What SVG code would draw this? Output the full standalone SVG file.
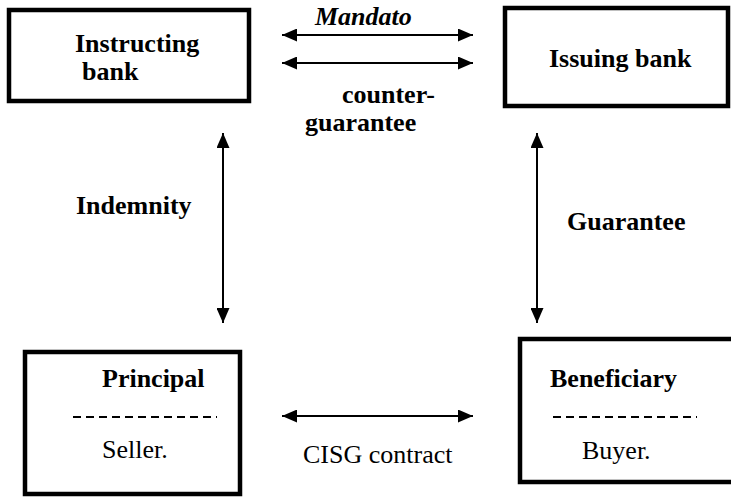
<svg xmlns="http://www.w3.org/2000/svg" width="731" height="497" viewBox="0 0 731 497">
<defs>
<marker id="ah" viewBox="0 0 15 13" refX="15" refY="6.5" markerWidth="15" markerHeight="13" markerUnits="userSpaceOnUse" orient="auto-start-reverse">
<path d="M0,0 L15,6.5 L0,13 Z" fill="#000"/>
</marker>
</defs>
<style>
.box{fill:#fff;stroke:#000;stroke-width:4.5}
text{font-family:'Liberation Serif','Tinos','Times New Roman','DejaVu Serif',serif;font-size:26px;fill:#000}
.b{font-weight:bold}
.c{stroke:#000;stroke-width:2;fill:none;marker-start:url(#ah);marker-end:url(#ah)}
.d{stroke:#000;stroke-width:2;stroke-dasharray:8,5}
</style>
<rect width="731" height="497" fill="#fff"/>
<g id="connectors">
<line class="c" x1="282" y1="35" x2="473" y2="35"/>
<line class="c" x1="282" y1="63" x2="473" y2="63"/>
<line class="c" x1="223" y1="133" x2="223" y2="323"/>
<line class="c" x1="537" y1="133" x2="537" y2="323"/>
<line class="c" x1="282" y1="416" x2="473" y2="416"/>
<text class="b" x="315" y="25" font-style="italic">Mandato</text>
<text class="b" x="342" y="103">counter-</text>
<text class="b" x="305" y="131">guarantee</text>
<text class="b" x="76" y="214">Indemnity</text>
<text class="b" x="567" y="230">Guarantee</text>
<text x="303" y="463">CISG contract</text>
</g>
<g id="instructing-bank">
<rect class="box" x="9" y="10" width="240" height="91"/>
<text class="b" x="75" y="52">Instructing</text>
<text class="b" x="82" y="80">bank</text>
</g>
<g id="issuing-bank">
<rect class="box" x="505" y="8" width="223" height="98"/>
<text class="b" x="549" y="67">Issuing bank</text>
</g>
<g id="principal">
<rect class="box" x="25" y="352" width="215" height="142"/>
<text class="b" x="102" y="387">Principal</text>
<line class="d" x1="73" y1="417" x2="217" y2="417"/>
<text x="102" y="458">Seller.</text>
</g>
<g id="beneficiary">
<rect class="box" x="520" y="339" width="220" height="143"/>
<text class="b" x="550" y="387">Beneficiary</text>
<line class="d" x1="553" y1="417" x2="697" y2="417"/>
<text x="582" y="459">Buyer.</text>
</g>
</svg>
